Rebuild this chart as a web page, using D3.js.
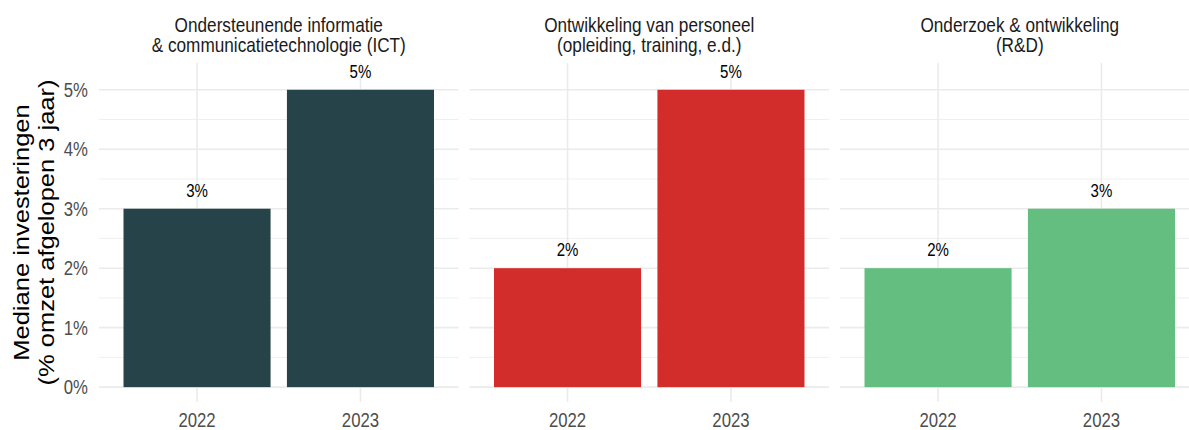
<!DOCTYPE html>
<html>
<head>
<meta charset="utf-8">
<script src="https://cdn.jsdelivr.net/npm/d3@7"></script>
<style>
  body { margin: 0; background: #fff; }
  text { font-family: "Liberation Sans", Arial, sans-serif; }
</style>
</head>
<body>
<div id="chart"></div>
<script>
// data
const panelTitles = [
  ["Ondersteunende informatie", "& communicatietechnologie (ICT)"],
  ["Ontwikkeling van personeel", "(opleiding, training, e.d.)"],
  ["Onderzoek & ontwikkeling", "(R&D)"]
];
const years = ["2022", "2023"];
const ictValues = [3, 5];
const personeelValues = [2, 5];
const rdValues = [2, 3];
const panelColors = ["#26434a", "#d32d2b", "#63be7f"];
const yTicks = [0, 1, 2, 3, 4, 5];
const yMinor = [0.5, 1.5, 2.5, 3.5, 4.5];

const series = [ictValues, personeelValues, rdValues];

const W = 1189, H = 430;
const SX = 0.86; // text is a bit narrower than tall in the reference

const svg = d3.select("#chart")
  .append("svg")
  .attr("width", W)
  .attr("height", H);

const panelLeft = 99, panelW = 359.5, gap = 11;
const panelTop = 63, panelBottom = 402;

const y = d3.scaleLinear()
  .domain([-0.25, 5.45])
  .range([panelBottom, panelTop]);

// text helper: squeezed horizontally
function addText(parent, x, yy, str, size, fill, anchor) {
  return parent.append("text")
    .attr("transform", `translate(${x},${yy}) scale(${SX},1)`)
    .attr("text-anchor", anchor || "middle")
    .style("font-size", size + "px")
    .attr("fill", fill)
    .text(str);
}

// y tick labels
yTicks.forEach(t => {
  addText(svg, 88, y(t) + 7, t + "%", 19.5, "#4d4d4d", "end");
});

// y axis title
const titleG = svg.append("g")
  .attr("transform", `translate(0,${(panelTop + panelBottom) / 2})`);
[["Mediane investeringen", 28.5], ["(% omzet afgelopen 3 jaar)", 53.5]].forEach(([s, bx]) => {
  titleG.append("text")
    .attr("transform", `translate(${bx},0) rotate(-90) scale(1,${SX})`)
    .attr("text-anchor", "middle")
    .style("font-size", "25.5px")
    .attr("fill", "#000")
    .text(s);
});

series.forEach((vals, i) => {
  const x0 = panelLeft + i * (panelW + gap);
  const g = svg.append("g").attr("transform", `translate(${x0},0)`);

  const x = d3.scalePoint()
    .domain(years)
    .range([0, panelW])
    .padding(0.6);
  const barW = x.step() * 0.9;

  // grid
  g.selectAll(".minor")
    .data(yMinor)
    .enter().append("line")
    .attr("x1", 0).attr("x2", panelW)
    .attr("y1", d => y(d)).attr("y2", d => y(d))
    .attr("stroke", "#ebebeb")
    .attr("stroke-width", 0.8);
  g.selectAll(".major")
    .data(yTicks)
    .enter().append("line")
    .attr("x1", 0).attr("x2", panelW)
    .attr("y1", d => y(d)).attr("y2", d => y(d))
    .attr("stroke", "#ebebeb")
    .attr("stroke-width", 1.6);
  g.selectAll(".vgrid")
    .data(years)
    .enter().append("line")
    .attr("x1", d => x(d)).attr("x2", d => x(d))
    .attr("y1", panelTop).attr("y2", panelBottom)
    .attr("stroke", "#ebebeb")
    .attr("stroke-width", 1.6);

  const data = years.map((yr, k) => ({ year: yr, value: vals[k] }));

  // bars
  g.selectAll(".bar")
    .data(data)
    .enter().append("rect")
    .attr("x", d => x(d.year) - barW / 2)
    .attr("y", d => y(d.value))
    .attr("width", barW)
    .attr("height", d => y(0) - y(d.value))
    .attr("fill", panelColors[i]);

  // bar labels
  data.forEach(d => {
    addText(g, x(d.year), y(d.value) - 12, d.value + "%", 17.5, "#000");
  });

  // x tick labels
  years.forEach(yr => {
    addText(g, x(yr), 426.5, yr, 19.5, "#4d4d4d");
  });

  // strip title
  addText(g, panelW / 2, 31.5, panelTitles[i][0], 20, "#1a1a1a");
  addText(g, panelW / 2, 52, panelTitles[i][1], 20, "#1a1a1a");
});
</script>
</body>
</html>
